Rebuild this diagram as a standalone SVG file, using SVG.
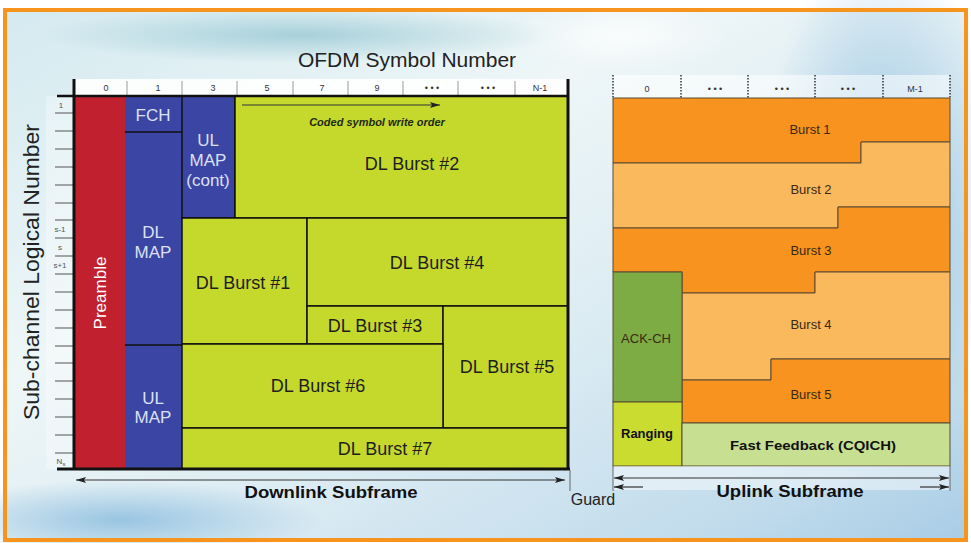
<svg xmlns="http://www.w3.org/2000/svg" width="971" height="543" viewBox="0 0 971 543">
<defs>
<linearGradient id="bg" x1="0" y1="0" x2="1" y2="1">
<stop offset="0" stop-color="#d4eaf0"/>
<stop offset="0.35" stop-color="#eef6f7"/>
<stop offset="0.6" stop-color="#dcecf3"/>
<stop offset="0.85" stop-color="#c2dcec"/>
<stop offset="1" stop-color="#a9cde6"/>
</linearGradient>
<radialGradient id="teal" cx="0.5" cy="0.5" r="0.5">
<stop offset="0" stop-color="#8fc3cf" stop-opacity="0.7"/>
<stop offset="1" stop-color="#8fc3cf" stop-opacity="0"/>
</radialGradient>
<radialGradient id="blue" cx="0.5" cy="0.5" r="0.5">
<stop offset="0" stop-color="#6aa9d6" stop-opacity="0.6"/>
<stop offset="1" stop-color="#6aa9d6" stop-opacity="0"/>
</radialGradient>
<radialGradient id="wht" cx="0.5" cy="0.5" r="0.5">
<stop offset="0" stop-color="#ffffff" stop-opacity="0.7"/>
<stop offset="1" stop-color="#ffffff" stop-opacity="0"/>
</radialGradient>
<marker id="ah" viewBox="0 0 10 6" refX="10" refY="3" markerWidth="10" markerHeight="6" markerUnits="userSpaceOnUse" orient="auto-start-reverse">
<path d="M0,0 L10,3 L0,6 L2,3 Z" fill="#222"/>
</marker>
</defs>
<style>
text{font-family:"Liberation Sans",Arial,sans-serif}
.dl{fill:#c5d92d;stroke:#111;stroke-width:1.5}
.blue{fill:#3b45a3}
.lbl{font-size:18px;fill:#1e1e1e;text-anchor:middle}
.wl{font-size:17px;fill:#dde0f5;text-anchor:middle}
.hd{font-size:9px;fill:#333;text-anchor:middle}
.tick{stroke:#777;stroke-width:1.3}
.htick{stroke:#999;stroke-width:1}
.ul{stroke:#5a4a30;stroke-width:1}
.ub{font-size:13px;fill:#3a2a12;text-anchor:middle}
.bb{font-weight:bold;fill:#111;text-anchor:middle}
.ax{stroke:#111;stroke-width:3;fill:none}
.arr{stroke:#333;stroke-width:1.2;fill:none}
.dot{stroke:#333;stroke-width:1.5;stroke-dasharray:1.5 1.5}
.sm{font-size:8px;fill:#555;text-anchor:middle}
</style>
<!-- background -->
<rect width="971" height="543" fill="#ffffff"/>
<rect x="5" y="10" width="961" height="530" fill="url(#bg)"/>
<ellipse cx="300" cy="35" rx="260" ry="28" fill="url(#teal)"/>
<ellipse cx="880" cy="200" rx="120" ry="260" fill="url(#blue)"/>
<ellipse cx="120" cy="520" rx="200" ry="40" fill="url(#blue)"/>
<ellipse cx="620" cy="35" rx="110" ry="35" fill="url(#wht)"/>
<rect x="5" y="10" width="961" height="530" fill="none" stroke="#f7941d" stroke-width="4"/>

<!-- titles -->
<text x="407" y="67" font-size="21" fill="#222" text-anchor="middle">OFDM Symbol Number</text>
<text transform="translate(39,272) rotate(-90)" font-size="22" fill="#222" text-anchor="middle" textLength="296" lengthAdjust="spacingAndGlyphs">Sub-channel Logical Number</text>

<!-- DL header -->
<g id="dl-header">
<rect x="74" y="79" width="495" height="17" fill="#ffffff" opacity="0.9"/>
<line class="htick" x1="127" y1="81" x2="127" y2="95"/>
<line class="htick" x1="182" y1="81" x2="182" y2="95"/>
<line class="htick" x1="237" y1="81" x2="237" y2="95"/>
<line class="htick" x1="293" y1="81" x2="293" y2="95"/>
<line class="htick" x1="348" y1="81" x2="348" y2="95"/>
<line class="htick" x1="403" y1="81" x2="403" y2="95"/>
<line class="htick" x1="458" y1="81" x2="458" y2="95"/>
<line class="htick" x1="515" y1="81" x2="515" y2="95"/>
<text class="hd" x="106" y="91">0</text>
<text class="hd" x="158" y="91">1</text>
<text class="hd" x="213" y="91">3</text>
<text class="hd" x="267" y="91">5</text>
<text class="hd" x="322" y="91">7</text>
<text class="hd" x="377" y="91">9</text>
<text class="hd" x="432" y="91">• • •</text>
<text class="hd" x="488" y="91">• • •</text>
<text class="hd" x="540" y="91">N-1</text>
</g>

<!-- left axis ticks -->
<g id="dl-axis">
<rect x="46" y="96" width="27" height="373" fill="#ffffff" opacity="0.3"/>
<g class="tick">
<line x1="55" y1="113" x2="73" y2="113"/><line x1="55" y1="131" x2="73" y2="131"/>
<line x1="55" y1="149" x2="73" y2="149"/><line x1="55" y1="167" x2="73" y2="167"/>
<line x1="55" y1="185" x2="73" y2="185"/><line x1="55" y1="203" x2="73" y2="203"/>
<line x1="55" y1="220" x2="73" y2="220"/><line x1="55" y1="238" x2="73" y2="238"/>
<line x1="55" y1="256" x2="73" y2="256"/><line x1="55" y1="274" x2="73" y2="274"/>
<line x1="55" y1="292" x2="73" y2="292"/><line x1="55" y1="310" x2="73" y2="310"/>
<line x1="55" y1="328" x2="73" y2="328"/><line x1="55" y1="346" x2="73" y2="346"/>
<line x1="55" y1="363" x2="73" y2="363"/><line x1="55" y1="381" x2="73" y2="381"/>
<line x1="55" y1="399" x2="73" y2="399"/><line x1="55" y1="417" x2="73" y2="417"/>
<line x1="55" y1="435" x2="73" y2="435"/><line x1="55" y1="453" x2="73" y2="453"/>
</g>
<text class="sm" x="61" y="108">1</text>
<text class="sm" x="60" y="232">s-1</text>
<text class="sm" x="60" y="250">s</text>
<text class="sm" x="60" y="268">s+1</text>
<text class="sm" x="61" y="464">N<tspan font-size="6" dy="2">s</tspan></text>
</g>

<!-- DL nodes -->
<g id="preamble">
<rect x="75" y="96" width="50" height="373" fill="#c1202f"/>
<text transform="translate(106,293) rotate(-90)" font-size="17" fill="#ffffff" text-anchor="middle">Preamble</text>
</g>
<g id="fch">
<rect class="blue" x="125" y="96" width="57" height="36"/>
<text class="wl" x="153" y="121" font-size="16">FCH</text>
</g>
<g id="dl-map">
<rect class="blue" x="125" y="132" width="57" height="213"/>
<text class="wl" x="153" y="238">DL</text>
<text class="wl" x="153" y="258">MAP</text>
</g>
<g id="ul-map">
<rect class="blue" x="125" y="345" width="57" height="124"/>
<text class="wl" x="153" y="404">UL</text>
<text class="wl" x="153" y="423">MAP</text>
</g>
<line x1="125" y1="132" x2="182" y2="132" stroke="#111" stroke-width="1.5"/>
<line x1="125" y1="345" x2="182" y2="345" stroke="#111" stroke-width="1.5"/>
<g id="ul-map-cont">
<rect class="blue" x="182" y="96" width="53" height="122" stroke="#111" stroke-width="1.5"/>
<text class="wl" x="208" y="146">UL</text>
<text class="wl" x="208" y="166">MAP</text>
<text class="wl" x="208" y="186">(cont)</text>
</g>
<g id="dl-burst-2">
<rect class="dl" x="235" y="96" width="333" height="122"/>
<text x="377" y="126" font-size="11" font-style="italic" font-weight="bold" fill="#1e2a10" text-anchor="middle">Coded symbol write order</text>
<text class="lbl" x="412" y="170">DL Burst #2</text>
</g>
<g id="dl-burst-1">
<rect class="dl" x="182" y="218" width="125" height="126"/>
<text class="lbl" x="243" y="289">DL Burst #1</text>
</g>
<g id="dl-burst-4">
<rect class="dl" x="307" y="218" width="261" height="88"/>
<text class="lbl" x="437" y="269">DL Burst #4</text>
</g>
<g id="dl-burst-3">
<rect class="dl" x="307" y="306" width="136" height="38"/>
<text class="lbl" x="375" y="332">DL Burst #3</text>
</g>
<g id="dl-burst-5">
<rect class="dl" x="443" y="306" width="125" height="122"/>
<text class="lbl" x="507" y="373">DL Burst #5</text>
</g>
<g id="dl-burst-6">
<rect class="dl" x="182" y="344" width="261" height="84"/>
<text class="lbl" x="318" y="392">DL Burst #6</text>
</g>
<g id="dl-burst-7">
<rect class="dl" x="182" y="428" width="386" height="41"/>
<text class="lbl" x="385" y="455">DL Burst #7</text>
</g>

<!-- DL frame axes -->
<g id="dl-frame">
<polyline class="ax" points="74,79 74,469"/>
<polyline class="ax" points="568,79 568,469"/>
<line x1="57" y1="96" x2="569" y2="96" stroke="#111" stroke-width="2.5"/>
<line x1="57" y1="469" x2="570" y2="469" stroke="#111" stroke-width="3"/>
</g>

<!-- UL header -->
<g id="ul-header">
<rect x="613" y="75" width="337" height="23" fill="#ffffff" opacity="0.55"/>
<line class="dot" x1="613" y1="75" x2="613" y2="98"/>
<line class="dot" x1="681" y1="75" x2="681" y2="98"/>
<line class="dot" x1="748" y1="75" x2="748" y2="98"/>
<line class="dot" x1="815" y1="75" x2="815" y2="98"/>
<line class="dot" x1="883" y1="75" x2="883" y2="98"/>
<line class="dot" x1="950" y1="75" x2="950" y2="98"/>
<text class="hd" x="647" y="92">0</text>
<text class="hd" x="715" y="92">• • •</text>
<text class="hd" x="782" y="92">• • •</text>
<text class="hd" x="848" y="92">• • •</text>
<text class="hd" x="915" y="92">M-1</text>
</g>

<!-- UL nodes -->
<g id="burst-1">
<polygon class="ul" fill="#f7931e" points="613,98 950,98 950,142 861,142 861,163 613,163"/>
<text class="ub" x="810" y="134">Burst 1</text>
</g>
<g id="burst-2">
<polygon class="ul" fill="#fbb95e" points="613,163 861,163 861,142 950,142 950,207 838,207 838,228 613,228"/>
<text class="ub" x="811" y="194">Burst 2</text>
</g>
<g id="burst-3">
<polygon class="ul" fill="#f7931e" points="613,228 838,228 838,207 950,207 950,272 815,272 815,293 682,293 682,272 613,272"/>
<text class="ub" x="811" y="255">Burst 3</text>
</g>
<g id="burst-4">
<polygon class="ul" fill="#fbb95e" points="682,293 815,293 815,272 950,272 950,359 771,359 771,380 682,380"/>
<text class="ub" x="811" y="329">Burst 4</text>
</g>
<g id="burst-5">
<polygon class="ul" fill="#f7931e" points="682,380 771,380 771,359 950,359 950,423 682,423"/>
<text class="ub" x="811" y="399">Burst 5</text>
</g>
<g id="ack-ch">
<rect class="ul" x="613" y="272" width="69" height="130" fill="#7dab44"/>
<text class="ub" x="646" y="343" fill="#1f2a12">ACK-CH</text>
</g>
<g id="ranging">
<rect class="ul" x="613" y="402" width="69" height="64" fill="#c9dc2f"/>
<text class="bb" x="647" y="438" font-size="13">Ranging</text>
</g>
<g id="fast-feedback">
<rect class="ul" x="682" y="423" width="268" height="43" fill="#c7df90"/>
<text class="bb" x="813" y="450" font-size="13" textLength="166" lengthAdjust="spacingAndGlyphs">Fast Feedback (CQICH)</text>
</g>

<!-- bottom labels -->
<rect x="613" y="466" width="337" height="24" fill="#ffffff" opacity="0.45"/>
<text class="bb" x="331" y="498" font-size="17" textLength="173" lengthAdjust="spacingAndGlyphs">Downlink Subframe</text>
<text class="bb" x="790" y="497" font-size="17" textLength="147" lengthAdjust="spacingAndGlyphs">Uplink Subframe</text>
<text x="593" y="505" font-size="16" fill="#222" text-anchor="middle">Guard</text>

<!-- connectors -->
<g id="connectors">
<line class="arr" x1="242" y1="105" x2="440" y2="105" stroke="#222" marker-end="url(#ah)"/>
<line class="arr" x1="76" y1="480" x2="565" y2="480" marker-start="url(#ah)" marker-end="url(#ah)"/>
<line class="arr" x1="614" y1="478" x2="949" y2="478" marker-start="url(#ah)" marker-end="url(#ah)"/>
<line class="arr" x1="643" y1="487" x2="614" y2="487" marker-end="url(#ah)"/>
<line class="arr" x1="920" y1="487" x2="949" y2="487" marker-end="url(#ah)"/>
<line x1="570" y1="470" x2="570" y2="491" stroke="#666" stroke-width="1"/>
<line x1="613" y1="466" x2="613" y2="491" stroke="#666" stroke-width="1"/>
<line x1="950" y1="466" x2="950" y2="491" stroke="#666" stroke-width="1"/>
</g>
</svg>
